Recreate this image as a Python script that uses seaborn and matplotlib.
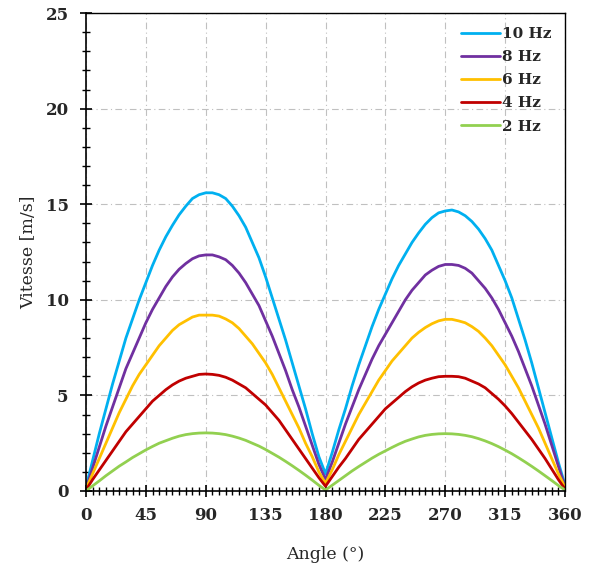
import numpy as np
import pandas as pd
import matplotlib
matplotlib.use("Agg")
import matplotlib.pyplot as plt
from matplotlib.ticker import MultipleLocator
import seaborn as sns

# angles read every 5 deg
angle = list(range(0, 361, 5))

v10 = [0.2, 1.6, 3.0, 4.3, 5.6, 6.8, 8.0, 9.0, 10.0, 10.9, 11.8, 12.6, 13.3,
       13.9, 14.45, 14.9, 15.3, 15.5, 15.6, 15.6, 15.5, 15.3, 14.9, 14.4, 13.8,
       13.0, 12.2, 11.2, 10.1, 9.0, 7.9, 6.7, 5.5, 4.3, 3.0, 1.8, 0.9,
       2.0, 3.2, 4.3, 5.5, 6.6, 7.6, 8.6, 9.5, 10.3, 11.1, 11.8, 12.4, 13.0,
       13.5, 13.95, 14.3, 14.55, 14.65, 14.7, 14.6, 14.4, 14.1, 13.7, 13.2,
       12.6, 11.8, 11.0, 10.1, 9.0, 7.9, 6.7, 5.4, 4.1, 2.8, 1.5, 0.3]
v8 = [0.1, 1.2, 2.3, 3.4, 4.4, 5.4, 6.4, 7.2, 8.0, 8.8, 9.5, 10.1, 10.7,
      11.2, 11.6, 11.9, 12.15, 12.3, 12.35, 12.35, 12.25, 12.1, 11.8, 11.4,
      10.9, 10.3, 9.7, 8.9, 8.1, 7.2, 6.3, 5.3, 4.4, 3.4, 2.4, 1.4, 0.6,
      1.5, 2.5, 3.5, 4.4, 5.3, 6.1, 6.9, 7.6, 8.2, 8.8, 9.4, 10.0, 10.5,
      10.9, 11.3, 11.55, 11.75, 11.85, 11.85, 11.8, 11.65, 11.4, 11.0, 10.6,
      10.1, 9.5, 8.8, 8.1, 7.3, 6.4, 5.5, 4.5, 3.5, 2.4, 1.3, 0.2]
v6 = [0.1, 0.9, 1.7, 2.5, 3.3, 4.1, 4.8, 5.5, 6.1, 6.6, 7.1, 7.6, 8.0,
      8.4, 8.7, 8.9, 9.1, 9.2, 9.2, 9.2, 9.15, 9.0, 8.8, 8.5, 8.1, 7.7,
      7.2, 6.7, 6.1, 5.4, 4.7, 4.0, 3.3, 2.5, 1.8, 1.0, 0.4,
      1.1, 1.9, 2.6, 3.3, 4.0, 4.6, 5.2, 5.8, 6.3, 6.8, 7.2, 7.6, 8.0,
      8.3, 8.55, 8.75, 8.9, 8.98, 8.98, 8.9, 8.8, 8.6, 8.35, 8.0, 7.6,
      7.1, 6.6, 6.0, 5.4, 4.7, 4.0, 3.3, 2.5, 1.7, 0.9, 0.2]
v4 = [0.05, 0.6, 1.1, 1.6, 2.1, 2.6, 3.1, 3.5, 3.9, 4.3, 4.7, 5.0, 5.3,
      5.55, 5.75, 5.9, 6.0, 6.1, 6.12, 6.1, 6.05, 5.95, 5.8, 5.6, 5.4,
      5.1, 4.8, 4.5, 4.1, 3.7, 3.2, 2.7, 2.2, 1.7, 1.2, 0.7, 0.25,
      0.75, 1.25, 1.7, 2.2, 2.7, 3.1, 3.5, 3.9, 4.3, 4.6, 4.9, 5.2, 5.45,
      5.65, 5.8, 5.9, 5.98, 6.0, 6.0, 5.98, 5.9, 5.75, 5.6, 5.4, 5.1,
      4.8, 4.45, 4.05, 3.6, 3.15, 2.7, 2.2, 1.7, 1.15, 0.6, 0.1]
v2 = [0.0, 0.27, 0.53, 0.8, 1.05, 1.3, 1.52, 1.75, 1.95, 2.15, 2.33, 2.5,
      2.63, 2.76, 2.87, 2.95, 3.0, 3.03, 3.04, 3.03, 3.0, 2.95, 2.87, 2.77,
      2.65, 2.5, 2.35, 2.17, 1.97, 1.77, 1.55, 1.32, 1.08, 0.83, 0.57, 0.3,
      0.05,
      0.3, 0.55, 0.8, 1.05, 1.28, 1.5, 1.72, 1.92, 2.1, 2.28, 2.45, 2.6,
      2.72, 2.83, 2.91, 2.96, 2.99, 3.0, 2.99, 2.96, 2.91, 2.84, 2.74, 2.62,
      2.48, 2.32, 2.14, 1.95, 1.74, 1.52, 1.29, 1.05, 0.8, 0.55, 0.29, 0.05]

labels = ["10 Hz", "8 Hz", "6 Hz", "4 Hz", "2 Hz"]
colors = ["#00B0F0", "#7030A0", "#FFC000", "#C00000", "#92D050"]
series = [v10, v8, v6, v4, v2]

rows = []
for lab, vals in zip(labels, series):
    assert len(vals) == len(angle), (lab, len(vals))
    for a, v in zip(angle, vals):
        rows.append({"Angle": a, "Vitesse": v, "freq": lab})
df = pd.DataFrame(rows)

sns.set_theme(style="ticks")
plt.rcParams["font.family"] = ["DejaVu Serif"]

fig = plt.figure(figsize=(6, 5.7), dpi=100)
ax = fig.add_axes([0.1433, 0.1386, 0.7984, 0.8384])

sns.lineplot(data=df, x="Angle", y="Vitesse", hue="freq", hue_order=labels,
             palette=colors, linewidth=2.0, ax=ax, legend=False)

ax.set_xlim(0, 360)
ax.set_ylim(0, 25)
ax.xaxis.set_major_locator(MultipleLocator(45))
ax.xaxis.set_minor_locator(MultipleLocator(5))
ax.yaxis.set_major_locator(MultipleLocator(5))
ax.yaxis.set_minor_locator(MultipleLocator(1))
ax.tick_params(which="major", direction="inout", length=9, width=1.2,
               labelsize=12, color="black")
ax.tick_params(which="minor", direction="inout", length=6, width=1.0, color="black")
for lbl in ax.get_xticklabels() + ax.get_yticklabels():
    lbl.set_fontweight("bold")
ax.tick_params(axis="x", pad=7)
ax.tick_params(axis="y", pad=8)

for s in ax.spines.values():
    s.set_color("black")
    s.set_linewidth(1.2)
ax.spines["top"].set_linewidth(1.0)
ax.spines["right"].set_linewidth(1.0)

ax.grid(True, which="major", color="#c0c0c0", linewidth=0.8,
        linestyle=(0, (6, 3, 1, 3)))

ax.set_xlabel("Angle (°)", fontsize=12.5, labelpad=16)
ax.set_ylabel("Vitesse [m/s]", fontsize=12.5, labelpad=6)

handles = [plt.Line2D([0], [0], color=c, linewidth=2.0) for c in colors]
leg = ax.legend(handles, labels, loc="upper right", frameon=False,
                handlelength=2.6, handletextpad=0.1, labelspacing=0.6,
                prop={"weight": "bold", "size": 11},
                bbox_to_anchor=(1.0, 1.0))

fig.savefig("out.png", dpi=100)
